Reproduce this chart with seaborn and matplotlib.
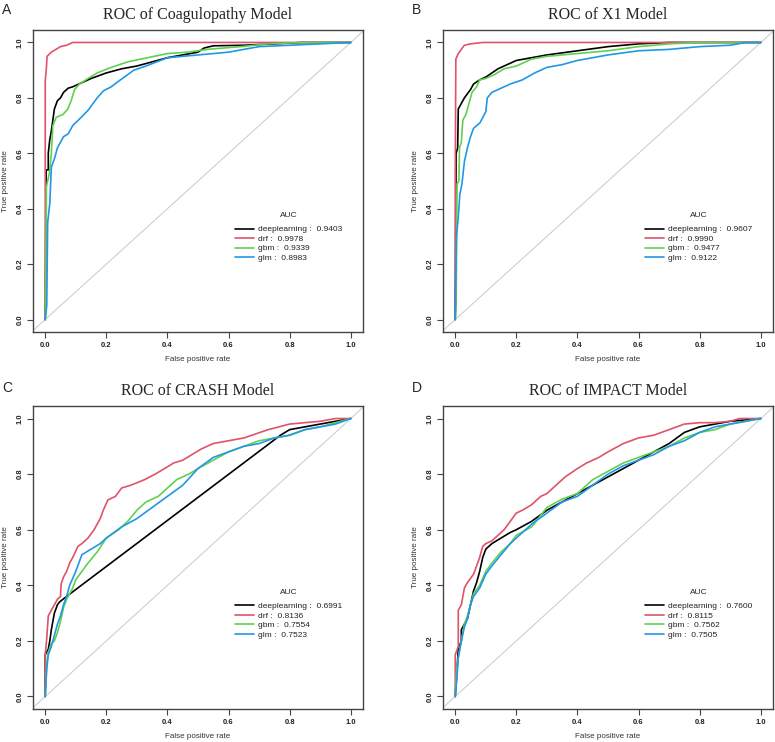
import numpy as np
import pandas as pd
import matplotlib
matplotlib.use("Agg")
import matplotlib.pyplot as plt
import seaborn as sns
from matplotlib.lines import Line2D

sns.set_style("white")
plt.rcParams['font.family'] = ['Liberation Sans', 'DejaVu Sans']

models = ["deeplearning", "drf", "gbm", "glm"]
colors = ["#000000", "#DF536B", "#61D04F", "#2297E6"]
titles = ["ROC of Coagulopathy Model", "ROC of X1 Model", "ROC of CRASH Model", "ROC of IMPACT Model"]
letters = ["A", "B", "C", "D"]
auc_A = [0.9403, 0.9978, 0.9339, 0.8983]
auc_B = [0.9607, 0.9990, 0.9477, 0.9122]
auc_C = [0.6991, 0.8136, 0.7554, 0.7523]
auc_D = [0.7600, 0.8115, 0.7562, 0.7505]

# ---- Panel A: Coagulopathy ----
A_dl_fpr = [0, 0.003, 0.01, 0.01, 0.015, 0.02, 0.025, 0.03, 0.04, 0.05, 0.06, 0.075, 0.09, 0.1, 0.12, 0.15, 0.2, 0.25, 0.3, 0.35, 0.4, 0.45, 0.5, 0.52, 0.55, 0.65, 0.75, 0.84, 1]
A_dl_tpr = [0, 0.54, 0.54, 0.6, 0.65, 0.68, 0.72, 0.76, 0.79, 0.8, 0.82, 0.835, 0.84, 0.845, 0.855, 0.87, 0.89, 0.905, 0.915, 0.93, 0.945, 0.955, 0.965, 0.98, 0.988, 0.99, 0.995, 1.0, 1]
A_drf_fpr = [0, 0, 0.004, 0.006, 0.02, 0.035, 0.05, 0.07, 0.09, 1]
A_drf_tpr = [0, 0.86, 0.91, 0.95, 0.965, 0.975, 0.985, 0.99, 1.0, 1]
A_gbm_fpr = [0, 0.002, 0.004, 0.014, 0.02, 0.025, 0.036, 0.058, 0.074, 0.085, 0.096, 0.112, 0.14, 0.17, 0.216, 0.27, 0.335, 0.4, 0.466, 0.53, 0.64, 0.73, 0.84, 1]
A_gbm_tpr = [0, 0.2, 0.48, 0.53, 0.6, 0.7, 0.73, 0.74, 0.76, 0.79, 0.83, 0.85, 0.87, 0.89, 0.91, 0.93, 0.945, 0.96, 0.965, 0.975, 0.985, 0.995, 1.0, 1]
A_glm_fpr = [0, 0.005, 0.008, 0.015, 0.02, 0.03, 0.04, 0.05, 0.06, 0.075, 0.09, 0.118, 0.14, 0.17, 0.19, 0.216, 0.24, 0.29, 0.33, 0.4, 0.5, 0.6, 0.65, 0.7, 0.8, 0.9, 1]
A_glm_tpr = [0, 0.05, 0.35, 0.42, 0.55, 0.58, 0.62, 0.64, 0.66, 0.67, 0.7, 0.73, 0.755, 0.8, 0.825, 0.84, 0.86, 0.9, 0.915, 0.945, 0.955, 0.965, 0.975, 0.985, 0.99, 0.995, 1]

# ---- Panel B: X1 ----
B_dl_fpr = [0, 0.003, 0.008, 0.01, 0.02, 0.03, 0.04, 0.05, 0.06, 0.08, 0.1, 0.12, 0.14, 0.16, 0.2, 0.25, 0.3, 0.4, 0.5, 0.6, 0.7, 1]
B_dl_tpr = [0, 0.6, 0.62, 0.76, 0.78, 0.8, 0.815, 0.83, 0.85, 0.865, 0.875, 0.89, 0.905, 0.915, 0.935, 0.945, 0.955, 0.97, 0.985, 0.995, 1.0, 1]
B_drf_fpr = [0, 0, 0.002, 0.01, 0.02, 0.03, 0.05, 0.09, 1]
B_drf_tpr = [0, 0.49, 0.94, 0.96, 0.975, 0.99, 0.995, 1.0, 1]
B_gbm_fpr = [0, 0.003, 0.006, 0.012, 0.014, 0.02, 0.025, 0.035, 0.045, 0.055, 0.07, 0.08, 0.1, 0.13, 0.16, 0.2, 0.25, 0.3, 0.4, 0.5, 0.6, 0.7, 0.8, 1]
B_gbm_tpr = [0, 0.05, 0.49, 0.5, 0.62, 0.64, 0.72, 0.74, 0.78, 0.82, 0.84, 0.865, 0.87, 0.885, 0.905, 0.915, 0.94, 0.95, 0.96, 0.97, 0.985, 0.995, 1.0, 1]
B_glm_fpr = [0, 0.004, 0.01, 0.015, 0.022, 0.03, 0.04, 0.05, 0.06, 0.081, 0.1, 0.105, 0.12, 0.15, 0.18, 0.22, 0.26, 0.3, 0.35, 0.4, 0.45, 0.5, 0.6, 0.7, 0.8, 0.9, 0.95, 1]
B_glm_tpr = [0, 0.3, 0.37, 0.45, 0.49, 0.57, 0.62, 0.66, 0.69, 0.71, 0.75, 0.8, 0.82, 0.835, 0.85, 0.865, 0.89, 0.91, 0.92, 0.935, 0.945, 0.955, 0.97, 0.975, 0.985, 0.99, 1.0, 1]

# ---- Panel C: CRASH ----
C_dl_fpr = [0, 0, 0.01, 0.015, 0.02, 0.025, 0.03, 0.04, 0.047, 0.07, 0.77, 0.8, 0.85, 0.9, 0.95, 1]
C_dl_tpr = [0, 0.15, 0.17, 0.2, 0.24, 0.27, 0.3, 0.33, 0.34, 0.36, 0.94, 0.96, 0.97, 0.98, 0.99, 1]
C_drf_fpr = [0, 0, 0.005, 0.01, 0.02, 0.03, 0.04, 0.05, 0.052, 0.06, 0.07, 0.08, 0.09, 0.107, 0.12, 0.14, 0.16, 0.18, 0.19, 0.205, 0.23, 0.25, 0.28, 0.325, 0.36, 0.406, 0.42, 0.45, 0.51, 0.55, 0.6, 0.65, 0.73, 0.8, 0.9, 0.95, 1]
C_drf_tpr = [0, 0.15, 0.21, 0.29, 0.31, 0.33, 0.35, 0.36, 0.405, 0.43, 0.45, 0.48, 0.5, 0.54, 0.55, 0.57, 0.6, 0.64, 0.67, 0.707, 0.72, 0.75, 0.76, 0.78, 0.8, 0.83, 0.84, 0.85, 0.89, 0.91, 0.92, 0.93, 0.96, 0.98, 0.99, 1.0, 1]
C_gbm_fpr = [0, 0.005, 0.01, 0.02, 0.03, 0.04, 0.05, 0.06, 0.07, 0.09, 0.1, 0.12, 0.14, 0.17, 0.2, 0.24, 0.27, 0.3, 0.33, 0.37, 0.4, 0.43, 0.47, 0.5, 0.55, 0.6, 0.65, 0.7, 0.75, 0.8, 0.85, 0.9, 0.95, 1]
C_gbm_tpr = [0, 0.12, 0.16, 0.19, 0.2, 0.23, 0.27, 0.32, 0.35, 0.39, 0.42, 0.45, 0.48, 0.52, 0.57, 0.6, 0.63, 0.67, 0.7, 0.72, 0.75, 0.78, 0.8, 0.82, 0.85, 0.88, 0.9, 0.92, 0.93, 0.94, 0.96, 0.97, 0.985, 1]
C_glm_fpr = [0, 0.005, 0.01, 0.02, 0.03, 0.04, 0.05, 0.06, 0.07, 0.08, 0.1, 0.12, 0.15, 0.18, 0.2, 0.25, 0.3, 0.35, 0.4, 0.45, 0.5, 0.55, 0.6, 0.65, 0.7, 0.75, 0.8, 0.85, 0.9, 0.95, 1]
C_glm_tpr = [0, 0.1, 0.15, 0.18, 0.22, 0.26, 0.29, 0.33, 0.36, 0.4, 0.45, 0.51, 0.53, 0.55, 0.57, 0.61, 0.64, 0.68, 0.72, 0.76, 0.82, 0.86, 0.88, 0.9, 0.91, 0.93, 0.94, 0.96, 0.97, 0.98, 1]

# ---- Panel D: IMPACT ----
D_dl_fpr = [0, 0.005, 0.01, 0.02, 0.02, 0.03, 0.04, 0.05, 0.06, 0.07, 0.08, 0.09, 0.1, 0.12, 0.15, 0.18, 0.2, 0.25, 0.3, 0.35, 0.4, 0.45, 0.5, 0.55, 0.6, 0.65, 0.7, 0.75, 0.8, 0.85, 0.9, 1]
D_dl_tpr = [0, 0.08, 0.17, 0.2, 0.24, 0.26, 0.28, 0.33, 0.38, 0.41, 0.45, 0.5, 0.53, 0.55, 0.57, 0.59, 0.6, 0.63, 0.67, 0.7, 0.73, 0.76, 0.79, 0.82, 0.85, 0.88, 0.91, 0.95, 0.97, 0.98, 0.99, 1]
D_drf_fpr = [0, 0, 0.01, 0.01, 0.02, 0.03, 0.04, 0.06, 0.07, 0.08, 0.09, 0.1, 0.12, 0.14, 0.16, 0.18, 0.2, 0.22, 0.25, 0.28, 0.3, 0.33, 0.36, 0.4, 0.43, 0.47, 0.5, 0.55, 0.6, 0.65, 0.7, 0.75, 0.8, 0.85, 0.9, 0.93, 1]
D_drf_tpr = [0, 0.15, 0.18, 0.31, 0.33, 0.39, 0.41, 0.44, 0.47, 0.5, 0.54, 0.55, 0.56, 0.58, 0.6, 0.63, 0.66, 0.67, 0.69, 0.72, 0.73, 0.76, 0.79, 0.82, 0.84, 0.86, 0.88, 0.91, 0.93, 0.94, 0.96, 0.98, 0.985, 0.985, 0.99, 1.0, 1]
D_gbm_fpr = [0, 0.005, 0.01, 0.02, 0.03, 0.04, 0.05, 0.06, 0.08, 0.1, 0.12, 0.15, 0.18, 0.2, 0.25, 0.3, 0.35, 0.4, 0.45, 0.5, 0.55, 0.6, 0.65, 0.7, 0.75, 0.8, 0.85, 0.9, 0.95, 1]
D_gbm_tpr = [0, 0.1, 0.14, 0.2, 0.26, 0.29, 0.33, 0.37, 0.4, 0.45, 0.48, 0.52, 0.55, 0.58, 0.61, 0.68, 0.71, 0.73, 0.78, 0.81, 0.84, 0.86, 0.88, 0.9, 0.93, 0.95, 0.96, 0.98, 0.99, 1]
D_glm_fpr = [0, 0.005, 0.01, 0.02, 0.03, 0.04, 0.05, 0.06, 0.08, 0.1, 0.12, 0.15, 0.18, 0.2, 0.25, 0.3, 0.35, 0.4, 0.45, 0.5, 0.55, 0.6, 0.65, 0.7, 0.75, 0.8, 0.85, 0.9, 0.95, 1]
D_glm_tpr = [0, 0.06, 0.14, 0.2, 0.25, 0.28, 0.33, 0.36, 0.39, 0.44, 0.47, 0.51, 0.55, 0.57, 0.62, 0.66, 0.7, 0.72, 0.76, 0.8, 0.83, 0.85, 0.87, 0.9, 0.92, 0.95, 0.97, 0.98, 0.99, 1]

panels = [
    ([(A_dl_fpr, A_dl_tpr), (A_drf_fpr, A_drf_tpr), (A_gbm_fpr, A_gbm_tpr), (A_glm_fpr, A_glm_tpr)], auc_A),
    ([(B_dl_fpr, B_dl_tpr), (B_drf_fpr, B_drf_tpr), (B_gbm_fpr, B_gbm_tpr), (B_glm_fpr, B_glm_tpr)], auc_B),
    ([(C_dl_fpr, C_dl_tpr), (C_drf_fpr, C_drf_tpr), (C_gbm_fpr, C_gbm_tpr), (C_glm_fpr, C_glm_tpr)], auc_C),
    ([(D_dl_fpr, D_dl_tpr), (D_drf_fpr, D_drf_tpr), (D_gbm_fpr, D_gbm_tpr), (D_glm_fpr, D_glm_tpr)], auc_D),
]

W, H = 775, 742
fig = plt.figure(figsize=(W / 100, H / 100), dpi=100)
boxes = [(33, 30, 363, 332), (443, 30, 773, 332), (33, 406, 363, 709), (443, 406, 773, 709)]
letter_pos = [(2, 3), (412, 3), (2, 381), (412, 381)]
ticks = [0.0, 0.2, 0.4, 0.6, 0.8, 1.0]
tick_labels = ["0.0", "0.2", "0.4", "0.6", "0.8", "1.0"]

for i, ((curves, aucs), box) in enumerate(zip(panels, boxes)):
    l, t, r, b = box
    ax = fig.add_axes([l / W, 1 - b / H, (r - l) / W, (b - t) / H])
    rows = []
    for m, (fx, ty) in zip(models, curves):
        for k, (a, c) in enumerate(zip(fx, ty)):
            rows.append({"model": m, "fpr": a, "tpr": c, "order": k})
    df = pd.DataFrame(rows)
    ax.axline((0, 0), slope=1, color="#cfcfcf", lw=0.8, zorder=1)
    sns.lineplot(data=df, x="fpr", y="tpr", hue="model", hue_order=models,
                 palette=dict(zip(models, colors)), sort=False, estimator=None,
                 units="model", legend=False, lw=1.2, ax=ax, zorder=3)
    ax.set_xlim(-0.04, 1.04)
    ax.set_ylim(-0.045, 1.045)
    ax.set_xticks(ticks)
    ax.set_xticklabels(tick_labels, fontsize=5.5, fontweight="bold", color="#222222")
    ax.set_yticks(ticks)
    ax.set_yticklabels(tick_labels, fontsize=5.5, fontweight="bold", color="#222222",
                       rotation=90, va="center")
    ax.tick_params(axis="both", direction="out", length=4, width=0.8, color="#444444",
                   bottom=True, left=True, pad=3)
    for s in ax.spines.values():
        s.set_visible(True)
        s.set_color("#444444")
        s.set_linewidth(1.0)
    ax.set_xlabel("False positive rate", fontsize=5.8, color="#333333", labelpad=5)
    ax.set_ylabel("True positive rate", fontsize=5.8, color="#333333", labelpad=5)
    ax.set_title(titles[i], fontsize=11.5, family="Liberation Serif", pad=8)
    handles = [Line2D([0], [0], color=c, lw=1.2) for c in colors]
    labels = [f"{m} :  {a:.4f}" for m, a in zip(models, aucs)]
    leg = ax.legend(handles, labels, title="AUC", frameon=False, fontsize=6,
                    title_fontsize=6, loc="upper left", bbox_to_anchor=(0.6, 0.41),
                    handlelength=2.2, handletextpad=0.6, labelspacing=0.2, borderpad=0)
    leg._legend_box.sep = 4.5
    for txt in leg.get_texts():
        txt.set_color("#222222")
    lx, ly = letter_pos[i]
    fig.text(lx / W, 1 - ly / H, letters[i], fontsize=10, va="top", ha="left")

fig.savefig("out.png", dpi=100)
